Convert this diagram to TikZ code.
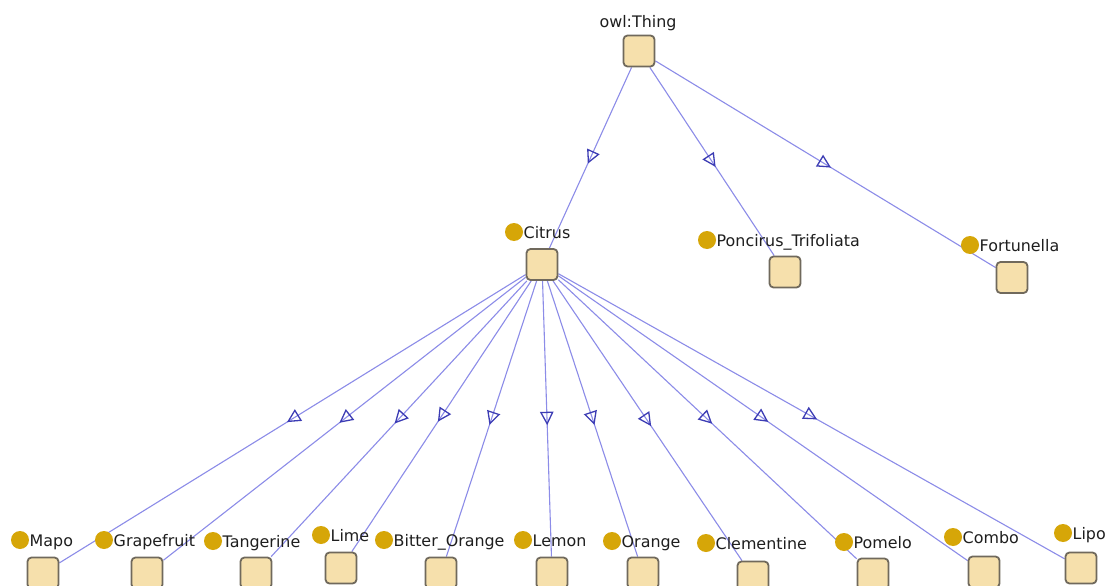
\documentclass[tikz,border=0pt]{standalone}
\usepackage{fontspec}
\setmainfont{DejaVu Sans}
\usetikzlibrary{arrows.meta,decorations.markings,backgrounds}

\definecolor{boxfill}{RGB}{246,224,172}
\definecolor{boxline}{RGB}{112,105,92}
\definecolor{dotgold}{RGB}{214,166,8}
\definecolor{edgeblue}{RGB}{140,140,232}
\definecolor{tipblue}{RGB}{60,60,180}
\definecolor{txt}{RGB}{30,30,30}

\tikzset{
  clsbox/.style={draw=boxline, line width=1.8pt, fill=boxfill,
    rounded corners=4pt, minimum size=31pt, inner sep=0pt},
  clsdot/.style={circle, fill=dotgold, minimum size=18pt, inner sep=0pt},
  clsfont/.style={font=\fontsize{15.9pt}{18pt}\selectfont},
  clstext/.style={clsfont, inner sep=0pt, text=txt, anchor=base west},
  subclass/.style={draw=edgeblue, line width=1.1pt,
    postaction={decorate},
    decoration={markings, mark=at position 0.5 with
      {\arrow[xshift=6.5pt]{Triangle[open, length=13.5pt, width=13.5pt,
        line width=1.3pt, color=tipblue]}}}},
}

% class node: box, gold dot and name
% #1 name, (#2,#3) box centre, (#4,#5) dot centre, #6 text
\newcommand\owlclass[6]{%
  \node[clsbox] (#1) at (#2,#3) {};
  \node[clsdot] (#1-dot) at (#4,#5) {};
  \node[clstext, xshift=9.5pt, yshift=-6pt] (#1-text) at (#4,#5) {#6};
}

\begin{document}
\begin{tikzpicture}[x=1pt, y=-1pt]
  \useasboundingbox (0,0) rectangle (1112,586);
  \clip (0,0) rectangle (1112,586);

  % root
  \node[clsbox] (thing) at (639,51) {};
  \node[clsfont, inner sep=0pt, text=txt, anchor=base] (thing-text)
    at (638,28) {owl:Thing};

  % second level
  \owlclass{citrus}{542}{264.5}{514}{232}{Citrus}
  \owlclass{poncirus}{785}{272}{707}{240}{Poncirus\_Trifoliata}
  \owlclass{fortunella}{1012}{277.5}{970}{245}{Fortunella}

  % leaves
  \owlclass{mapo}{43}{573}{20}{540}{Mapo}
  \owlclass{grapefruit}{147}{573}{104}{540}{Grapefruit}
  \owlclass{tangerine}{256}{573}{213}{541}{Tangerine}
  \owlclass{lime}{341}{568}{321}{535}{Lime}
  \owlclass{bitter}{441}{573}{384}{540}{Bitter\_Orange}
  \owlclass{lemon}{552}{573}{523}{540}{Lemon}
  \owlclass{orange}{643}{573}{612}{541}{Orange}
  \owlclass{clementine}{753}{577}{706}{543}{Clementine}
  \owlclass{pomelo}{873}{574}{844}{542}{Pomelo}
  \owlclass{combo}{984}{572}{953}{537}{Combo}
  \owlclass{lipo}{1081}{568}{1063}{533}{Lipo}

  % white page and subclass edges, under the nodes
  \begin{scope}[on background layer]
    \fill[white] (0,0) rectangle (1112,586);
    \foreach \c in {citrus,poncirus,fortunella}
      \draw[subclass] (thing) -- (\c);
    \foreach \c in {mapo,grapefruit,tangerine,lime,bitter,lemon,orange,
                    clementine,pomelo,combo,lipo}
      \draw[subclass] (citrus) -- (\c);
  \end{scope}
\end{tikzpicture}
\end{document}
